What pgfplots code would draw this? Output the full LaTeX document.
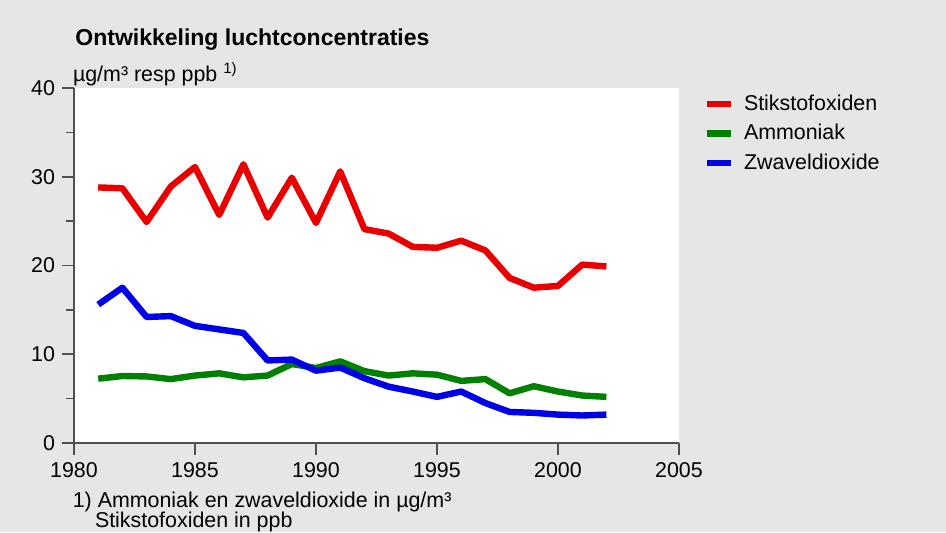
\documentclass[border=0pt]{standalone}
\usepackage{pgfplots}
\pgfplotsset{compat=1.18}
\usepackage{fontspec}
\setmainfont{Liberation Sans}

\definecolor{bggray}{RGB}{230,230,230}
\definecolor{noxred}{RGB}{232,0,0}
\definecolor{nh3green}{RGB}{0,128,0}
\definecolor{so2blue}{RGB}{0,0,230}
\definecolor{tickgray}{RGB}{80,80,80}

\newcommand{\bodyfont}{\fontsize{10.7}{12}\selectfont}

\begin{document}
\begin{tikzpicture}
  \fill[bggray] (-37pt,-44.5pt) rectangle (436pt,221.5pt);
  \begin{axis}[
      scale only axis,
      width=302.5pt,
      height=177.5pt,
      xmin=1980, xmax=2005,
      ymin=0, ymax=40,
      xtick={1980,1985,...,2005},
      ytick={0,10,...,40},
      minor ytick={5,15,25,35},
      axis x line=bottom,
      axis y line=left,
      axis line style={-, tickgray, line width=1pt},
      axis background/.style={fill=white},
      tick align=outside,
      tick style={tickgray, line width=0.8pt},
      major tick length=6pt,
      minor tick length=4pt,
      ticklabel style={font=\bodyfont},
      /pgf/number format/1000 sep={},
      /pgf/number format/assume math mode=true,
      legend style={at={(1.040,0.994)}, anchor=north west, draw=none, fill=none,
        font=\bodyfont, row sep=1.6pt, inner sep=0pt},
      legend cell align=left,
      legend image code/.code={\draw[#1] (0pt,0pt) -- (12pt,0pt); \path (15pt,0pt);},
      every axis plot/.append style={line width=3.2pt, line join=round, no markers},
    ]
    \addplot[noxred] coordinates {
      (1981,28.8) (1982,28.7) (1983,24.9) (1984,28.9) (1985,31.1) (1986,25.7)
      (1987,31.4) (1988,25.4) (1989,29.9) (1990,24.8) (1991,30.6) (1992,24.1)
      (1993,23.6) (1994,22.1) (1995,22.0) (1996,22.8) (1997,21.7) (1998,18.6)
      (1999,17.5) (2000,17.7) (2001,20.1) (2002,19.9)};
    \addlegendentry{Stikstofoxiden}
    \addplot[nh3green] coordinates {
      (1981,7.25) (1982,7.55) (1983,7.5) (1984,7.2) (1985,7.6) (1986,7.85)
      (1987,7.4) (1988,7.6) (1989,8.9) (1990,8.45) (1991,9.2) (1992,8.1)
      (1993,7.6) (1994,7.85) (1995,7.7) (1996,7.0) (1997,7.2) (1998,5.6)
      (1999,6.4) (2000,5.8) (2001,5.35) (2002,5.2)};
    \addlegendentry{Ammoniak}
    \addplot[so2blue] coordinates {
      (1981,15.6) (1982,17.5) (1983,14.2) (1984,14.3) (1985,13.2) (1986,12.8)
      (1987,12.4) (1988,9.3) (1989,9.4) (1990,8.15) (1991,8.5) (1992,7.3)
      (1993,6.35) (1994,5.8) (1995,5.2) (1996,5.8) (1997,4.5) (1998,3.5)
      (1999,3.4) (2000,3.2) (2001,3.1) (2002,3.2)};
    \addlegendentry{Zwaveldioxide}
  \end{axis}
  \node[anchor=base west, inner sep=0pt, font=\fontsize{11.5}{14}\selectfont\bfseries]
    at (0.5pt,199pt) {Ontwikkeling luchtconcentraties};
  \node[anchor=base west, inner sep=0pt, font=\bodyfont]
    at (-0.7pt,181pt) {µg/m³ resp ppb \textsuperscript{1)}};
  \node[anchor=base west, inner sep=0pt, font=\bodyfont]
    at (-0.8pt,-32pt) {1) Ammoniak en zwaveldioxide in µg/m³};
  \node[anchor=base west, inner sep=0pt, font=\bodyfont]
    at (10.3pt,-42.3pt) {Stikstofoxiden in ppb};
  \pgfresetboundingbox
  \path[use as bounding box] (-37pt,-44.5pt) rectangle (436pt,221.5pt);
\end{tikzpicture}
\end{document}
